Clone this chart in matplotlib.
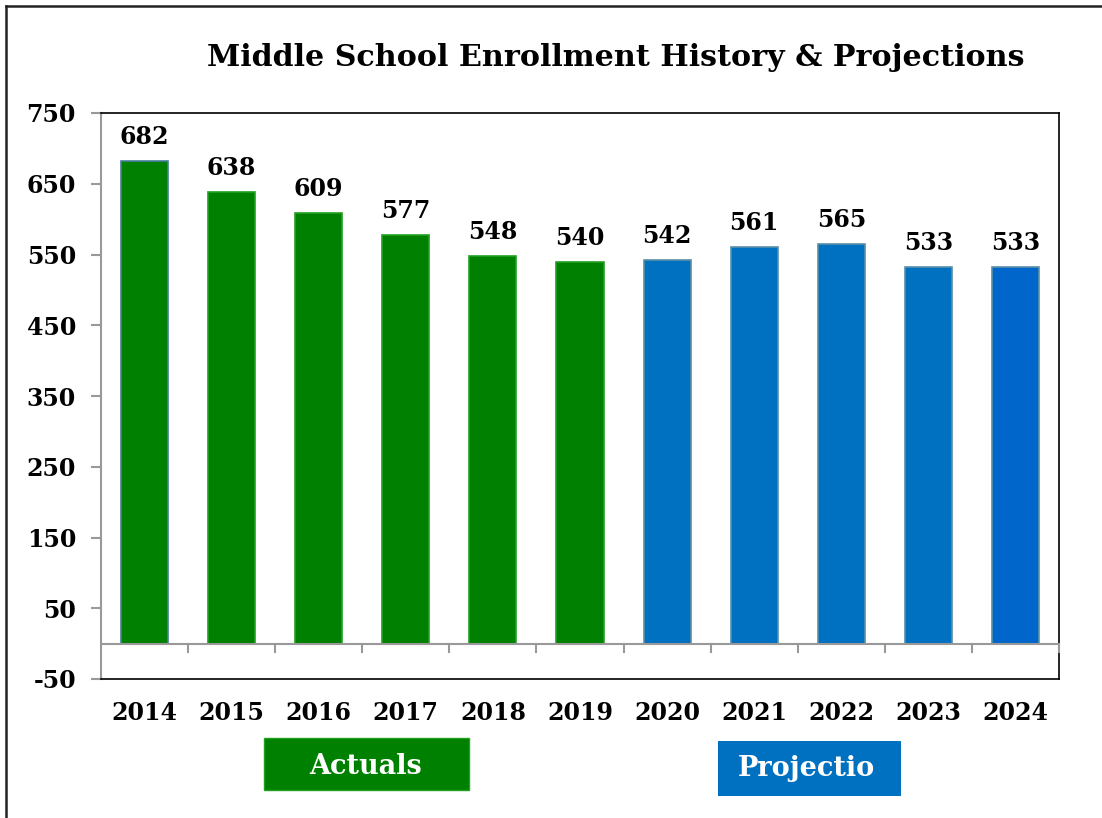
import matplotlib.pyplot as plt
from matplotlib.patches import Rectangle
from matplotlib.lines import Line2D

YEARS = ["2014", "2015", "2016", "2017", "2018", "2019",
         "2020", "2021", "2022", "2023", "2024"]
ENROLLMENT = [682, 638, 609, 577, 548, 540, 542, 561, 565, 533, 533]
BAR_COLORS = ["#008000"] * 6 + ["#0070C0"] * 4 + ["#0066CC"]
EDGE_COLORS = ["#4A7EA0"] + ["#22A022"] * 5 + ["#5A8FA8"] * 5
Y_TICKS = [-50, 50, 150, 250, 350, 450, 550, 650, 750]
TITLE = "Middle School Enrollment History & Projections"

FONT = "DejaVu Serif"
W, H = 1102, 818

fig = plt.figure(figsize=(W / 100, H / 100), dpi=100)
ax = fig.add_axes([101 / W, 1 - 679 / H, (1059 - 101) / W, (679 - 113) / H])

x = range(len(YEARS))
ax.bar(x, ENROLLMENT, width=0.54, color=BAR_COLORS, edgecolor=EDGE_COLORS, linewidth=1.2, zorder=2)
for xi, v in zip(x, ENROLLMENT):
    ax.text(xi, v + 17, str(v), ha="center", va="bottom", fontsize=17,
            fontweight="bold", family=FONT)

ax.set_xlim(-0.5, len(YEARS) - 0.5)
ax.set_ylim(-50, 750)
ax.set_yticks(Y_TICKS)
ax.set_yticklabels([str(t) for t in Y_TICKS], fontsize=17, fontweight="bold", family=FONT)
ax.tick_params(axis="y", length=7, width=1.5, color="#999999", pad=11)
ax.set_xticks([])

# x axis line at zero with category boundary ticks
ax.axhline(0, color="#999999", lw=1.5, zorder=3)
for b in range(1, len(YEARS) + 1):
    ax.plot([b - 0.5, b - 0.5], [0, -12], color="#999999", lw=1.5, clip_on=False, zorder=3)
for xi, yr in zip(x, YEARS):
    ax.text(xi, -98, yr, ha="center", va="center", fontsize=17,
            fontweight="bold", family=FONT)

for side in ["top", "right", "bottom"]:
    ax.spines[side].set_color("black")
    ax.spines[side].set_linewidth(1.2)
ax.spines["left"].set_color("#999999")
ax.spines["left"].set_linewidth(1.5)

fig.text(616 / W, 1 - 58 / H, TITLE, ha="center", va="center", fontsize=21.7,
         fontweight="bold", family=FONT)

# outer frame: top and left edges only
fig.add_artist(Line2D([6 / W, 1], [1 - 6 / H, 1 - 6 / H], color="#222222", lw=1.8))
fig.add_artist(Line2D([6 / W, 6 / W], [0, 1 - 6 / H], color="#222222", lw=1.8))

# legend-like boxes
fig.add_artist(Rectangle((264 / W, 1 - 790 / H), 205 / W, 52 / H, facecolor="#008000",
                         edgecolor="#22A022", lw=1, transform=fig.transFigure))
fig.text(366 / W, 1 - 767 / H, "Actuals", ha="center", va="center", color="white",
         fontsize=19.5, fontweight="bold", family=FONT)
fig.add_artist(Rectangle((718 / W, 1 - 796 / H), 183 / W, 55 / H, facecolor="#0070C0",
                         edgecolor="none", transform=fig.transFigure))
fig.text(738 / W, 1 - 769 / H, "Projectio", ha="left", va="center", color="white",
         fontsize=19.5, fontweight="bold", family=FONT)

fig.savefig("out.png", dpi=100)
